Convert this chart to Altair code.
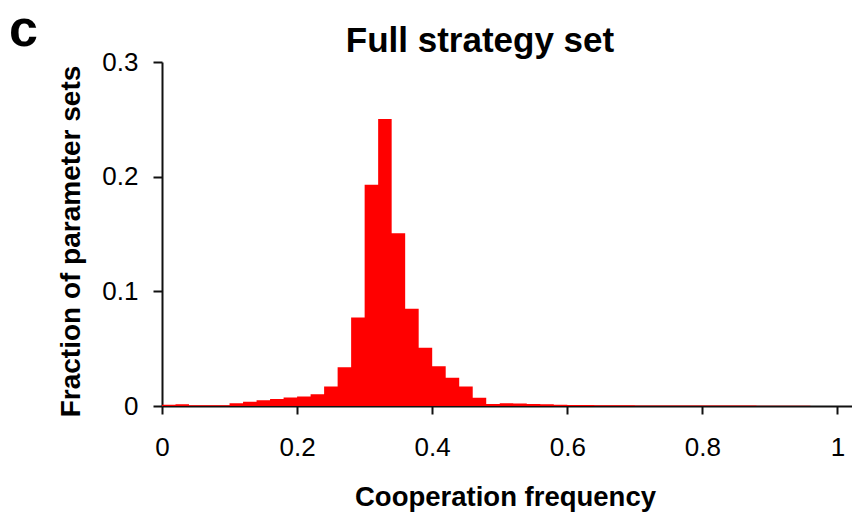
import altair as alt
import pandas as pd

# Histogram bins (width 0.02) of cooperation frequency
bin_start = [round(i * 0.02, 2) for i in range(50)]
fraction = [
    0.0010, 0.0015, 0.0006, 0.0006, 0.0007, 0.0023, 0.0037, 0.0050, 0.0062, 0.0074,
    0.0082, 0.0102, 0.0169, 0.0338, 0.0772, 0.1929, 0.2503, 0.1506, 0.0848, 0.0507,
    0.0347, 0.0247, 0.0169, 0.0073, 0.0017, 0.0023, 0.0021, 0.0018, 0.0015, 0.0011,
    0.0009, 0.0008, 0.0007, 0.0006, 0.0006, 0.0005, 0.0005, 0.0005, 0.0005, 0.0004,
    0.0004, 0.0004, 0.0004, 0.0004, 0.0003, 0.0003, 0.0003, 0.0003, 0.0, 0.0,
]
x_ticks = [0, 0.2, 0.4, 0.6, 0.8, 1]
y_ticks = [0, 0.1, 0.2, 0.3]
title_text = ["Full strategy set"]
panel_label = ["c"]

# step outline: each bin start with its height, closed by the last bin's end edge
df = pd.DataFrame({
    "edge": bin_start + [1.0],
    "fraction": fraction + [0.0],
})

FONT = "Liberation Sans"

bars = alt.Chart(df).mark_area(color="#ff0000", interpolate="step-after").encode(
    x=alt.X(
        "edge:Q",
        scale=alt.Scale(domain=[0, 1.0215], nice=False, zero=False),
        axis=alt.Axis(
            values=x_ticks,
            format="~g",
            title="Cooperation frequency",
            titleFont=FONT, titleFontSize=27.5, titleFontWeight="bold", titleColor="black",
            titleX=343, titleY=99, titleAlign="center", titleBaseline="alphabetic",
            labelFont=FONT, labelFontSize=26, labelColor="black", labelPadding=20,
            tickSize=8, tickWidth=2, tickColor="#111", domainColor="#111", domainWidth=2,
            grid=False, labelFlush=False,
        ),
    ),
    y=alt.Y(
        "fraction:Q",
        scale=alt.Scale(domain=[0, 0.3], nice=False),
        axis=alt.Axis(
            values=y_ticks,
            format="~g",
            title="Fraction of parameter sets",
            titleFont=FONT, titleFontSize=28, titleFontWeight="bold", titleColor="black",
            titleX=-83, titleY=179, titleAlign="center", titleBaseline="alphabetic",
            titleAngle=-90,
            labelFont=FONT, labelFontSize=26, labelColor="black", labelPadding=15,
            tickSize=9, tickWidth=2, tickColor="#111", domainColor="#111", domainWidth=2,
            grid=False,
        ),
    ),
)

panel = alt.Chart(pd.DataFrame({"label": panel_label})).mark_text(
    font=FONT, fontSize=52, fontWeight="bold", align="left", baseline="alphabetic", color="black"
).encode(
    text="label:N",
    x=alt.value(-153),
    y=alt.value(-16),
)

title = alt.Chart(pd.DataFrame({"label": title_text})).mark_text(
    font=FONT, fontSize=35, fontWeight="bold", align="center", baseline="alphabetic", color="black"
).encode(
    text="label:N",
    x=alt.value(318),
    y=alt.value(-10),
)

chart = alt.layer(bars, panel, title).properties(
    width=690,
    height=344,
    padding={"left": 162, "top": 62, "right": 0, "bottom": 106},
    autosize=alt.AutoSizeParams(type="none"),
    background="white",
).configure_view(stroke=None)

chart.save("out.html", embed_options={"renderer": "svg", "actions": False})
